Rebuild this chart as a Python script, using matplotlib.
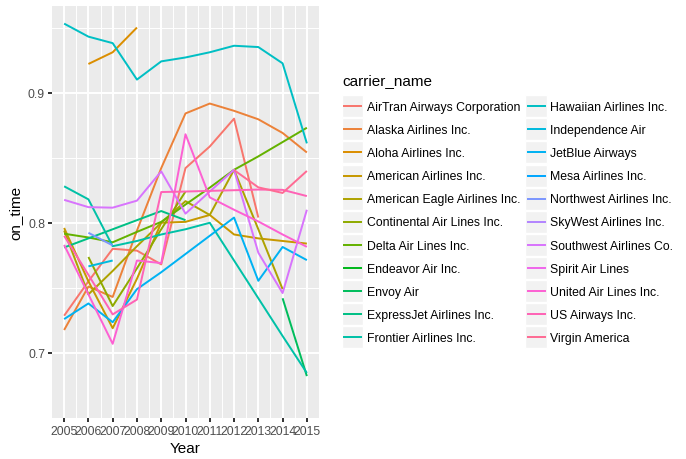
import numpy as np
import matplotlib
matplotlib.use("Agg")
import matplotlib.pyplot as plt
from matplotlib.legend_handler import HandlerBase
from matplotlib.patches import Rectangle
from matplotlib.lines import Line2D

nan = np.nan
years = [2005, 2006, 2007, 2008, 2009, 2010, 2011, 2012, 2013, 2014, 2015]

carriers = [
    "AirTran Airways Corporation", "Alaska Airlines Inc.", "Aloha Airlines Inc.",
    "American Airlines Inc.", "American Eagle Airlines Inc.", "Continental Air Lines Inc.",
    "Delta Air Lines Inc.", "Endeavor Air Inc.", "Envoy Air", "ExpressJet Airlines Inc.",
    "Frontier Airlines Inc.", "Hawaiian Airlines Inc.", "Independence Air", "JetBlue Airways",
    "Mesa Airlines Inc.", "Northwest Airlines Inc.", "SkyWest Airlines Inc.",
    "Southwest Airlines Co.", "Spirit Air Lines", "United Air Lines Inc.",
    "US Airways Inc.", "Virgin America",
]

airtran = [0.7286, 0.755, 0.780, 0.7786, 0.768, 0.842, 0.8586, 0.880, 0.804, nan, nan]
alaska = [0.7176, 0.751, 0.743, 0.794, 0.842, 0.884, 0.8916, 0.886, 0.8795, 0.869, 0.854]
aloha = [nan, 0.922, 0.931, 0.950, nan, nan, nan, nan, nan, nan, nan]
american = [0.796, 0.755, 0.719, 0.757, 0.800, 0.8007, 0.806, 0.791, 0.788, 0.786, 0.784]
american_eagle = [0.794, 0.745, 0.763, 0.782, 0.800, 0.8166, 0.806, 0.8407, 0.795, 0.749, nan]
continental = [nan, 0.7737, 0.736, 0.765, 0.795, 0.824, nan, nan, nan, nan, nan]
delta = [0.7916, 0.7887, 0.785, 0.793, 0.8007, 0.814, 0.827, 0.8407, 0.851, 0.862, 0.873]
endeavor = [nan, nan, nan, nan, nan, nan, nan, nan, nan, nan, 0.80]
envoy = [nan, nan, nan, nan, nan, nan, nan, nan, nan, 0.742, 0.6822]
expressjet = [0.781, 0.788, 0.795, 0.802, 0.809, 0.802, nan, nan, nan, nan, nan]
frontier = [0.828, 0.818, 0.782, 0.786, 0.791, 0.795, 0.800, 0.771, 0.742, 0.713, 0.6846]
hawaiian = [0.953, 0.943, 0.938, 0.910, 0.924, 0.927, 0.931, 0.936, 0.935, 0.9225, 0.861]
independence = [nan, 0.7665, 0.771, nan, nan, nan, nan, nan, nan, nan, nan]
jetblue = [0.726, 0.738, 0.7236, 0.749, 0.762, 0.776, 0.790, 0.804, 0.7554, 0.7814, 0.7713]
mesa = [nan, nan, nan, nan, nan, nan, 0.80, nan, nan, nan, nan]
northwest = [nan, 0.7923, 0.7826, nan, nan, nan, nan, nan, nan, nan, nan]
skywest = [nan, nan, nan, nan, nan, nan, nan, nan, nan, nan, 0.80]
southwest = [0.8176, 0.812, 0.8116, 0.817, 0.8395, 0.807, 0.824, 0.8407, 0.777, 0.746, 0.810]
spirit = [nan, nan, nan, nan, nan, nan, nan, nan, nan, nan, 0.75]
united = [0.783, 0.745, 0.707, 0.771, 0.769, 0.868, 0.8195, 0.810, 0.801, 0.791, 0.7815]
us_airways = [0.790, 0.760, 0.7296, 0.741, 0.8236, 0.824, 0.8245, 0.825, 0.8255, 0.8253, 0.8205]
virgin = [nan, nan, nan, nan, nan, nan, nan, 0.8405, 0.8272, 0.8229, 0.8398]

series = [airtran, alaska, aloha, american, american_eagle, continental, delta, endeavor,
          envoy, expressjet, frontier, hawaiian, independence, jetblue, mesa, northwest,
          skywest, southwest, spirit, united, us_airways, virgin]

x_ticks = [2005, 2006, 2007, 2008, 2009, 2010, 2011, 2012, 2013, 2014, 2015]
y_ticks = [0.7, 0.8, 0.9]
y_minor = [0.65, 0.75, 0.85, 0.95]


def hcl_to_hex(h, c=100.0, l=65.0):
    Xn, Yn, Zn = 95.047, 100.000, 108.883
    hr = np.deg2rad(h)
    U = c * np.cos(hr)
    V = c * np.sin(hr)
    Y = Yn * ((l + 16) / 116) ** 3 if l > 8 else Yn * l / 903.3
    t = Xn + Yn + Zn
    x = Xn / t
    y = Yn / t
    uN = 2 * x / (6 * y - x + 1.5)
    vN = 4.5 * y / (6 * y - x + 1.5)
    u = U / (13 * l) + uN
    v = V / (13 * l) + vN
    X = 9.0 * Y * u / (4 * v)
    Z = -X / 3 - 5 * Y + 3 * Y / v
    X, Y, Z = X / 100, Y / 100, Z / 100
    r = 3.240479 * X - 1.537150 * Y - 0.498535 * Z
    g = -0.969256 * X + 1.875992 * Y + 0.041556 * Z
    b = 0.055648 * X - 0.204043 * Y + 1.057311 * Z

    def gam(cc):
        cc = min(max(cc, 0.0), 1.0)
        return 12.92 * cc if cc <= 0.00304 else 1.055 * cc ** (1 / 2.4) - 0.055

    return "#%02X%02X%02X" % tuple(int(round(255 * gam(cc))) for cc in (r, g, b))


n = len(carriers)
hues = np.linspace(15, 375 - 360 / n, n)
colors = [hcl_to_hex(hh) for hh in hues]

plt.rcParams["font.family"] = ["Liberation Sans", "DejaVu Sans"]

W, H = 686, 460
fig = plt.figure(figsize=(W / 100, H / 100), dpi=100)
fig.patch.set_facecolor("white")
px_l, px_r, px_t, px_b = 52, 319, 7, 419
ax = fig.add_axes([px_l / W, 1 - px_b / H, (px_r - px_l) / W, (px_b - px_t) / H])
ax.set_facecolor("#EBEBEB")
for s in ax.spines.values():
    s.set_visible(False)

handles = []
for name, vals, col in zip(carriers, series, colors):
    ln, = ax.plot(years, vals, color=col, lw=1.42, label=name, solid_capstyle="butt",
                  solid_joinstyle="round")
    handles.append(ln)

allv = np.array([v for s in series for v in s], dtype=float)
vmin, vmax = np.nanmin(allv), np.nanmax(allv)
pad = 0.05 * (vmax - vmin)
ax.set_ylim(vmin - pad, vmax + pad)
ax.set_xlim(min(years) - 0.05 * (max(years) - min(years)), max(years) + 0.05 * (max(years) - min(years)))

ax.set_xticks(x_ticks)
ax.set_xticklabels([str(t) for t in x_ticks])
ax.set_yticks(y_ticks)
ax.set_yticklabels([str(t) for t in y_ticks])
ax.set_xticks([t + 0.5 for t in x_ticks[:-1]], minor=True)
ax.set_yticks(y_minor, minor=True)
ax.grid(which="major", color="white", lw=1.42)
ax.grid(which="minor", color="white", lw=0.71)
ax.set_axisbelow(True)
ax.tick_params(which="major", length=2.75, width=1.42, color="#333333",
               labelsize=8.8, labelcolor="#4D4D4D", pad=2.2)
ax.tick_params(which="minor", length=0)

ax.set_xlabel("Year", fontsize=11, color="black", labelpad=3)
ax.set_ylabel("on_time", fontsize=11, color="black", labelpad=4)


class KeyHandler(HandlerBase):
    def create_artists(self, legend, orig_handle, xdescent, ydescent, width, height,
                       fontsize, trans):
        rect = Rectangle((-xdescent, -ydescent), width, height, facecolor="#F2F2F2",
                         edgecolor="white", linewidth=1.0, transform=trans)
        yc = -ydescent + height / 2
        line = Line2D([-xdescent + 0.1 * width, -xdescent + 0.9 * width], [yc, yc],
                      color=orig_handle.get_color(), lw=1.42, transform=trans)
        return [rect, line]


leg = ax.legend(handles, carriers, ncol=2, loc="upper left",
                bbox_to_anchor=(342 / W, 1 - 74 / H), bbox_transform=fig.transFigure,
                frameon=False, title="carrier_name", alignment="left",
                handler_map={Line2D: KeyHandler()}, fontsize=8.8, title_fontsize=11,
                handlelength=1.75, handleheight=2.39, labelspacing=0.09,
                handletextpad=0.3, columnspacing=0.4, borderpad=0, borderaxespad=0)
leg._legend_box.sep = 6

fig.savefig("out.png", dpi=100, facecolor="white")
